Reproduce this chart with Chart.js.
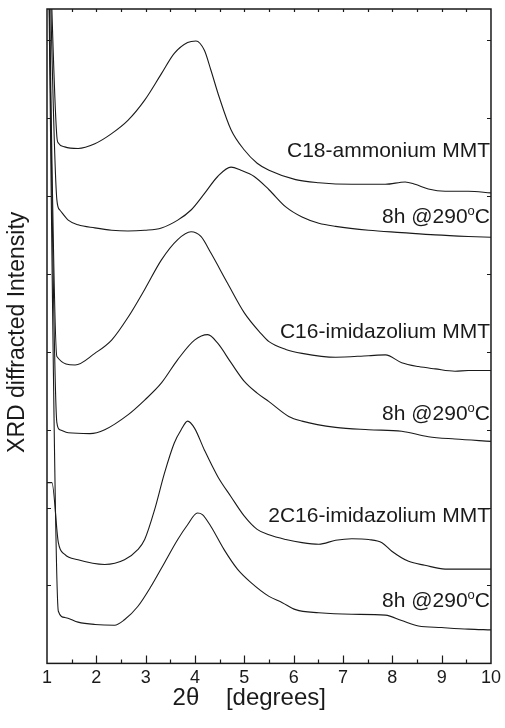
<!DOCTYPE html>
<html lang="en">
<meta charset="UTF-8">
<head>
	<title>XRD patterns</title>
	<script src="https://cdn.jsdelivr.net/npm/chart.js@4.4.1/dist/chart.umd.min.js"></script>
	<style type="text/css">
		body {
			margin: 0;
			background: #fff;
		}

		.wrapper {
			width: 505px;
			height: 728px;
		}
	</style>
</head>
<body>
	<div class="wrapper">
		<canvas id="myChart"></canvas>
	</div>
	<script type="text/javascript">
		// 2theta (degrees) and diffracted intensity (arb. units, stacked) for each trace
		var c18Angle = [1.0, 1.20, 1.23, 1.36, 1.63, 1.97, 2.31, 2.64, 2.98, 3.32, 3.58, 3.85, 4.02, 4.19, 4.32, 4.49, 4.73, 5.00, 5.26, 5.50, 6.04, 6.51, 7.18, 7.86, 8.26, 8.46, 8.73, 9.07, 9.54, 10.0];
		var c18Int = [10.5, 6.76, 6.68, 6.63, 6.61, 6.67, 6.80, 6.97, 7.23, 7.57, 7.83, 7.97, 7.99, 7.87, 7.62, 7.27, 6.85, 6.59, 6.42, 6.33, 6.21, 6.17, 6.15, 6.15, 6.18, 6.15, 6.09, 6.06, 6.06, 6.04];

		var c18HeatAngle = [1.0, 1.20, 1.26, 1.43, 1.63, 1.97, 2.31, 2.64, 2.98, 3.32, 3.65, 3.92, 4.19, 4.46, 4.73, 4.93, 5.20, 5.50, 5.84, 6.17, 6.51, 6.85, 7.52, 8.19, 8.87, 9.54, 10.0];
		var c18HeatInt = [10.5, 5.95, 5.82, 5.69, 5.63, 5.59, 5.56, 5.55, 5.56, 5.59, 5.69, 5.82, 6.03, 6.25, 6.37, 6.33, 6.25, 6.08, 5.86, 5.73, 5.65, 5.61, 5.56, 5.53, 5.50, 5.48, 5.47];

		var c16Angle = [1.0, 1.20, 1.57, 1.97, 2.31, 2.64, 2.98, 3.32, 3.65, 3.92, 4.12, 4.32, 4.66, 5.00, 5.33, 5.50, 5.84, 6.17, 6.85, 7.52, 7.86, 8.19, 8.53, 8.87, 9.27, 9.54, 10.0];
		var c16Int = [10.5, 3.94, 3.83, 3.98, 4.15, 4.44, 4.80, 5.18, 5.44, 5.54, 5.48, 5.27, 4.88, 4.50, 4.24, 4.13, 4.03, 3.98, 3.93, 3.95, 3.96, 3.86, 3.81, 3.78, 3.75, 3.76, 3.76];

		var c16HeatAngle = [1.0, 1.20, 1.26, 1.43, 1.87, 2.17, 2.64, 2.98, 3.32, 3.65, 3.99, 4.26, 4.46, 4.73, 5.00, 5.26, 5.50, 5.90, 6.17, 6.85, 7.52, 8.19, 8.73, 9.27, 10.0];
		var c16HeatInt = [10.5, 3.09, 3.00, 2.96, 2.95, 3.00, 3.19, 3.38, 3.60, 3.90, 4.15, 4.22, 4.11, 3.86, 3.62, 3.47, 3.36, 3.17, 3.11, 3.03, 3.00, 2.98, 2.91, 2.88, 2.85];

		var twoC16Angle = [1.0, 1.10, 1.23, 1.36, 1.63, 2.17, 2.57, 2.84, 2.98, 3.18, 3.38, 3.58, 3.72, 3.85, 3.99, 4.19, 4.46, 4.73, 5.00, 5.26, 5.50, 5.84, 6.17, 6.51, 6.85, 7.18, 7.52, 7.79, 7.99, 8.33, 8.66, 9.07, 9.54, 10.0];
		var twoC16Int = [2.32, 2.32, 1.55, 1.40, 1.33, 1.27, 1.33, 1.46, 1.59, 1.97, 2.44, 2.83, 3.00, 3.11, 3.02, 2.74, 2.40, 2.14, 1.89, 1.72, 1.65, 1.59, 1.55, 1.53, 1.58, 1.60, 1.59, 1.55, 1.44, 1.31, 1.26, 1.21, 1.21, 1.21];

		var twoC16HeatAngle = [1.0, 1.23, 1.36, 1.63, 1.97, 2.37, 2.57, 2.84, 3.11, 3.38, 3.65, 3.85, 4.05, 4.15, 4.32, 4.59, 4.86, 5.13, 5.50, 5.77, 6.04, 6.51, 7.18, 7.86, 8.19, 8.53, 9.00, 9.54, 10.0];
		var twoC16HeatInt = [10.5, 0.67, 0.59, 0.53, 0.50, 0.49, 0.56, 0.73, 0.99, 1.29, 1.59, 1.78, 1.93, 1.91, 1.76, 1.46, 1.21, 1.04, 0.86, 0.78, 0.69, 0.65, 0.63, 0.62, 0.55, 0.48, 0.46, 0.44, 0.43];

		// trace labels, placed at 2theta = 10 at these intensities (text baseline)
		var labelText = ['C18-ammonium MMT', '8h @290°C', 'C16-imidazolium MMT', '8h @290°C', '2C16-imidazolium MMT', '8h @290°C'];
		var labelAt = [6.50, 5.65, 4.18, 3.13, 1.82, 0.72];

		var xTicks = [1, 2, 3, 4, 5, 6, 7, 8, 9, 10];

		var FONT = '"Liberation Sans", Arial, Helvetica, sans-serif';
		var INK = '#1a1a1a';

		function toPoints(xs, ys) {
			var pts = [];
			for (var i = 0; i < xs.length; i++) {
				pts.push({ x: xs[i], y: ys[i] });
			}
			return pts;
		}

		var traces = [
			toPoints(c18Angle, c18Int),
			toPoints(c18HeatAngle, c18HeatInt),
			toPoints(c16Angle, c16Int),
			toPoints(c16HeatAngle, c16HeatInt),
			toPoints(twoC16Angle, twoC16Int),
			toPoints(twoC16HeatAngle, twoC16HeatInt)
		];

		// frame with inward ticks, axis titles and trace labels
		var framePlugin = {
			id: 'frame',
			afterDraw: function (chart) {
				var ctx = chart.ctx;
				var a = chart.chartArea;
				var x = chart.scales.x;
				var y = chart.scales.y;
				ctx.save();
				ctx.strokeStyle = INK;
				ctx.lineWidth = 1.5;
				ctx.strokeRect(a.left, a.top, a.right - a.left, a.bottom - a.top);

				ctx.lineWidth = 1.2;
				ctx.beginPath();
				for (var v = 1.5; v < 10; v += 0.5) {
					var px = Math.round(x.getPixelForValue(v)) + 0.5;
					var major = (v % 1 === 0);
					ctx.moveTo(px, a.bottom);
					ctx.lineTo(px, a.bottom - (major ? 8 : 4));
					ctx.moveTo(px, a.top);
					ctx.lineTo(px, a.top + 3);
				}
				for (var k = 1; k <= 8; k++) {
					var py = Math.round(y.getPixelForValue(k)) + 0.5;
					ctx.moveTo(a.left, py);
					ctx.lineTo(a.left + 4, py);
					ctx.moveTo(a.right, py);
					ctx.lineTo(a.right - 4, py);
				}
				ctx.stroke();

				// trace labels
				ctx.fillStyle = INK;
				ctx.textBaseline = 'alphabetic';
				var xr = x.getPixelForValue(10) - 1;
				for (var i = 0; i < labelText.length; i++) {
					var base = y.getPixelForValue(labelAt[i]);
					var parts = labelText[i].split('°');
					ctx.font = '21px ' + FONT;
					ctx.textAlign = 'right';
					if (parts.length === 2) {
						ctx.fillText(parts[1], xr, base);
						var wc = ctx.measureText(parts[1]).width;
						ctx.font = '13px ' + FONT;
						ctx.fillText('o', xr - wc, base - 8);
						var wo = ctx.measureText('o').width;
						ctx.font = '21px ' + FONT;
						ctx.fillText(parts[0], xr - wc - wo, base);
					} else {
						ctx.fillText(labelText[i], xr, base);
					}
				}

				// axis titles
				ctx.font = '24px ' + FONT;
				ctx.textAlign = 'center';
				ctx.textBaseline = 'middle';
				ctx.fillText('2\u03b8    [degrees]', x.getPixelForValue(5.1), a.bottom + 35);
				ctx.save();
				ctx.translate(18, y.getPixelForValue(4.25));
				ctx.rotate(-Math.PI / 2);
				ctx.font = '23px ' + FONT;
				ctx.fillText('XRD diffracted Intensity', 0, 0);
				ctx.restore();
				ctx.restore();
			}
		};

		var datasets = traces.map(function (pts, i) {
			return {
				label: labelText[i],
				data: pts,
				borderColor: INK,
				borderWidth: 1.1,
				pointRadius: 0,
				fill: false,
				cubicInterpolationMode: 'monotone'
			};
		});

		var ctx = document.getElementById('myChart').getContext('2d');
		var chart = new Chart(ctx, {
			type: 'line',
			data: { datasets: datasets },
			options: {
				responsive: true,
				maintainAspectRatio: false,
				devicePixelRatio: 1,
				animation: false,
				layout: { padding: { left: 47, right: 12, top: 9, bottom: 35 } },
				plugins: {
					legend: { display: false },
					tooltip: { enabled: false }
				},
				scales: {
					x: {
						type: 'linear',
						min: 1,
						max: 10,
						grid: { display: false, drawTicks: false },
						border: { display: false },
						afterBuildTicks: function (scale) {
							scale.ticks = xTicks.map(function (v) { return { value: v }; });
						},
						ticks: {
							color: INK,
							font: { size: 18, family: FONT },
							padding: 4,
							maxRotation: 0,
							autoSkip: false
						}
					},
					y: {
						type: 'linear',
						min: 0,
						max: 8.4,
						display: false
					}
				}
			},
			plugins: [framePlugin]
		});
	</script>
</body>
</html>
